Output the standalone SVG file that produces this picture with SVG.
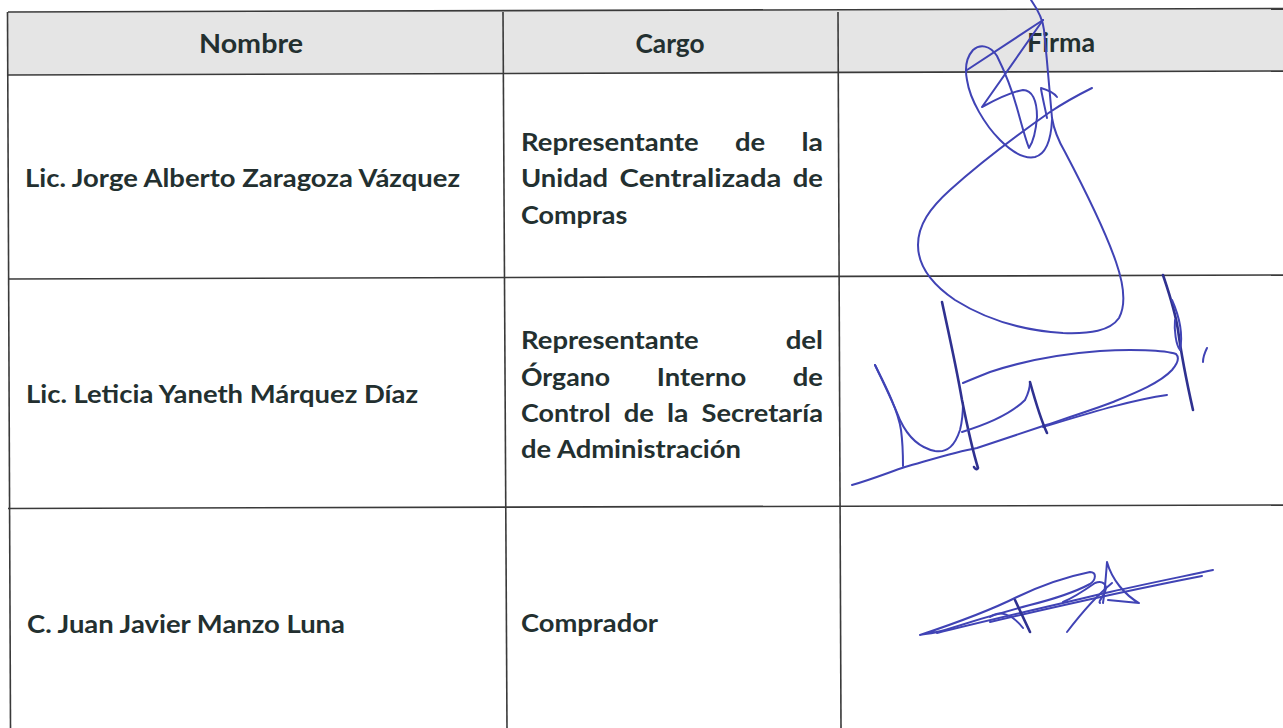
<svg xmlns="http://www.w3.org/2000/svg" width="1283" height="728" viewBox="0 0 1283 728">
<defs>
<style>
.grid{stroke:#3a3a3a;stroke-width:1.6;fill:none}
.t{font-family:Lato,"Open Sans","Liberation Sans",sans-serif;font-weight:bold;font-size:25.5px;fill:#233030}
.h{font-family:Lato,"Open Sans","Liberation Sans",sans-serif;font-weight:bold;font-size:26px;fill:#233030;text-anchor:middle}
.ink{fill:none;stroke:#4043b5;stroke-width:2;stroke-linecap:round;stroke-linejoin:round}
.ink2{fill:none;stroke:#2f3190;stroke-width:2.6;stroke-linecap:round;stroke-linejoin:round}
</style>
</defs>
<rect width="1283" height="728" fill="#ffffff"/>
<polygon points="8,12 1283,8.5 1283,71 8,75" fill="#e5e5e5"/>
<g id="grid">
<line class="grid" x1="8" y1="12" x2="1283" y2="8.5"/>
<line class="grid" x1="8" y1="75" x2="1283" y2="71"/>
<line class="grid" x1="8" y1="279" x2="1283" y2="275"/>
<line class="grid" x1="8" y1="508.5" x2="1283" y2="505"/>
<line class="grid" x1="7.5" y1="12" x2="10.5" y2="728"/>
<line class="grid" x1="503" y1="12" x2="507" y2="728"/>
<line class="grid" x1="838" y1="12" x2="841" y2="728"/>
</g>
<g id="header">
<text class="h" x="251" y="52.5" textLength="104" lengthAdjust="spacingAndGlyphs">Nombre</text>
<text class="h" x="670" y="52.5" textLength="69" lengthAdjust="spacingAndGlyphs">Cargo</text>
<text class="h" x="1061" y="51.5" textLength="68" lengthAdjust="spacingAndGlyphs">Firma</text>
</g>
<g id="row1">
<text class="t" x="25" y="187" textLength="435" lengthAdjust="spacingAndGlyphs">Lic. Jorge Alberto Zaragoza Vázquez</text>
<text class="t" x="521" y="150.5" textLength="177.7" lengthAdjust="spacingAndGlyphs">Representante</text>
<text class="t" x="735" y="150.5" textLength="30.2" lengthAdjust="spacingAndGlyphs">de</text>
<text class="t" x="801.5" y="150.5" textLength="21.5" lengthAdjust="spacingAndGlyphs">la</text>
<text class="t" x="521" y="187" textLength="87.1" lengthAdjust="spacingAndGlyphs">Unidad</text>
<text class="t" x="619.6" y="187" textLength="161.8" lengthAdjust="spacingAndGlyphs">Centralizada</text>
<text class="t" x="792.8" y="187" textLength="30.2" lengthAdjust="spacingAndGlyphs">de</text>
<text class="t" x="521" y="223.5" textLength="106.3" lengthAdjust="spacingAndGlyphs">Compras</text>
</g>
<g id="row2">
<text class="t" x="26" y="403" textLength="392" lengthAdjust="spacingAndGlyphs">Lic. Leticia Yaneth Márquez Díaz</text>
<text class="t" x="521" y="349" textLength="177.7" lengthAdjust="spacingAndGlyphs">Representante</text>
<text class="t" x="785.7" y="349" textLength="37.3" lengthAdjust="spacingAndGlyphs">del</text>
<text class="t" x="521" y="385.5" textLength="89.1" lengthAdjust="spacingAndGlyphs">Órgano</text>
<text class="t" x="656.8" y="385.5" textLength="89.4" lengthAdjust="spacingAndGlyphs">Interno</text>
<text class="t" x="792.8" y="385.5" textLength="30.2" lengthAdjust="spacingAndGlyphs">de</text>
<text class="t" x="521" y="421.5" textLength="89.6" lengthAdjust="spacingAndGlyphs">Control</text>
<text class="t" x="623.7" y="421.5" textLength="30.2" lengthAdjust="spacingAndGlyphs">de</text>
<text class="t" x="667" y="421.5" textLength="21.5" lengthAdjust="spacingAndGlyphs">la</text>
<text class="t" x="701.5" y="421.5" textLength="121.5" lengthAdjust="spacingAndGlyphs">Secretaría</text>
<text class="t" x="521" y="457.5" textLength="220" lengthAdjust="spacingAndGlyphs">de Administración</text>
</g>
<g id="row3">
<text class="t" x="27" y="633" textLength="318" lengthAdjust="spacingAndGlyphs">C. Juan Javier Manzo Luna</text>
<text class="t" x="521" y="632" textLength="137" lengthAdjust="spacingAndGlyphs">Comprador</text>
</g>
<g id="signature1">
<path class="ink" d="M1031,0 C1038,10 1043,20 1044,30 C1047,60 1050,95 1052,118 C1054,130 1058,140 1065,152 C1085,190 1105,230 1116,262 C1124,285 1126,305 1119,318 C1110,331 1090,334 1063,333 C1030,331 990,322 955,300 C930,283 918,265 918,245 C918,225 930,208 950,190 C980,163 1020,133 1050,112 C1065,102 1080,94 1092,88"/>
<path class="ink" d="M1043,20 L967,70"/>
<path class="ink" d="M1043,20 L982,107 C995,100 1010,92 1023,90 C1032,90 1037,100 1037,117 C1036,130 1033,142 1029,148 C1025,138 1021,122 1017,108 C1012,90 1004,70 997,56 C990,45 980,44 973,50 C966,58 965,70 967,80 C970,100 985,125 1000,140 C1012,152 1025,159 1035,157 C1046,154 1051,140 1052,120"/>
<path class="ink" d="M1041,89 C1043,100 1045,108 1047,118 M1041,88 C1048,90 1054,93 1057,97"/>
</g>
<g id="signature2">
<path class="ink" d="M852,485 C870,480 890,472 905,467 C930,460 955,452 977,448 L1043,426 C1070,417 1095,409 1113,402 C1135,393 1160,383 1172,370 C1178,363 1180,358 1176,354 C1165,350 1130,349 1100,351 C1060,354 1020,362 990,372 C980,376 970,380 963,383"/>
<path class="ink" d="M1043,427 C1080,416 1130,400 1167,395"/>
<path class="ink" d="M875,365 C882,380 892,400 900,420 C908,437 920,448 935,451 C948,453 955,445 960,430 C963,418 963,410 963,403"/>
<path class="ink" d="M875,365 C885,385 898,410 901,430 C903,445 903,455 903,466"/>
<path class="ink2" d="M942,302 C948,330 956,365 962,400 C968,430 974,455 978,468 C977,470 975,469 974,467"/>
<path class="ink" d="M962,432 C985,425 1010,415 1025,400 C1029,392 1030,385 1030,382"/>
<path class="ink2" d="M1030,382 C1035,400 1040,418 1047,433"/>
<path class="ink2" d="M1163,275 C1168,290 1175,310 1178,330 C1180,345 1184,370 1193,410"/>
<path class="ink" d="M1172,300 C1180,318 1183,335 1180,350 C1176,345 1174,330 1175,320"/>
<path class="ink" d="M1207,348 C1205,352 1203,357 1203,362"/>
</g>
<g id="signature3">
<path class="ink" d="M920,635 C950,625 985,613 1017,597 C1040,586 1065,577 1090,572 C1097,572 1096,580 1090,584 C1075,592 1050,600 1030,605 C1000,613 970,622 945,630 C935,633 925,634 920,635"/>
<path class="ink" d="M937,633 C980,622 1050,606 1110,592 C1150,583 1190,575 1213,570"/>
<path class="ink" d="M990,622 C1050,608 1130,590 1202,576"/>
<path class="ink2" d="M1015,600 L1030,632"/>
<path class="ink" d="M990,617 C1000,610 1012,614 1023,628"/>
<path class="ink" d="M1063,602 C1075,597 1085,590 1095,583 C1102,580 1108,584 1105,592 C1102,598 1098,602 1100,603"/>
<path class="ink" d="M1067,632 C1080,615 1095,597 1112,583"/>
<path class="ink" d="M1107,562 C1106,575 1105,590 1103,603 M1107,562 C1112,580 1125,595 1139,603 L1108,600"/>
</g>
</svg>
